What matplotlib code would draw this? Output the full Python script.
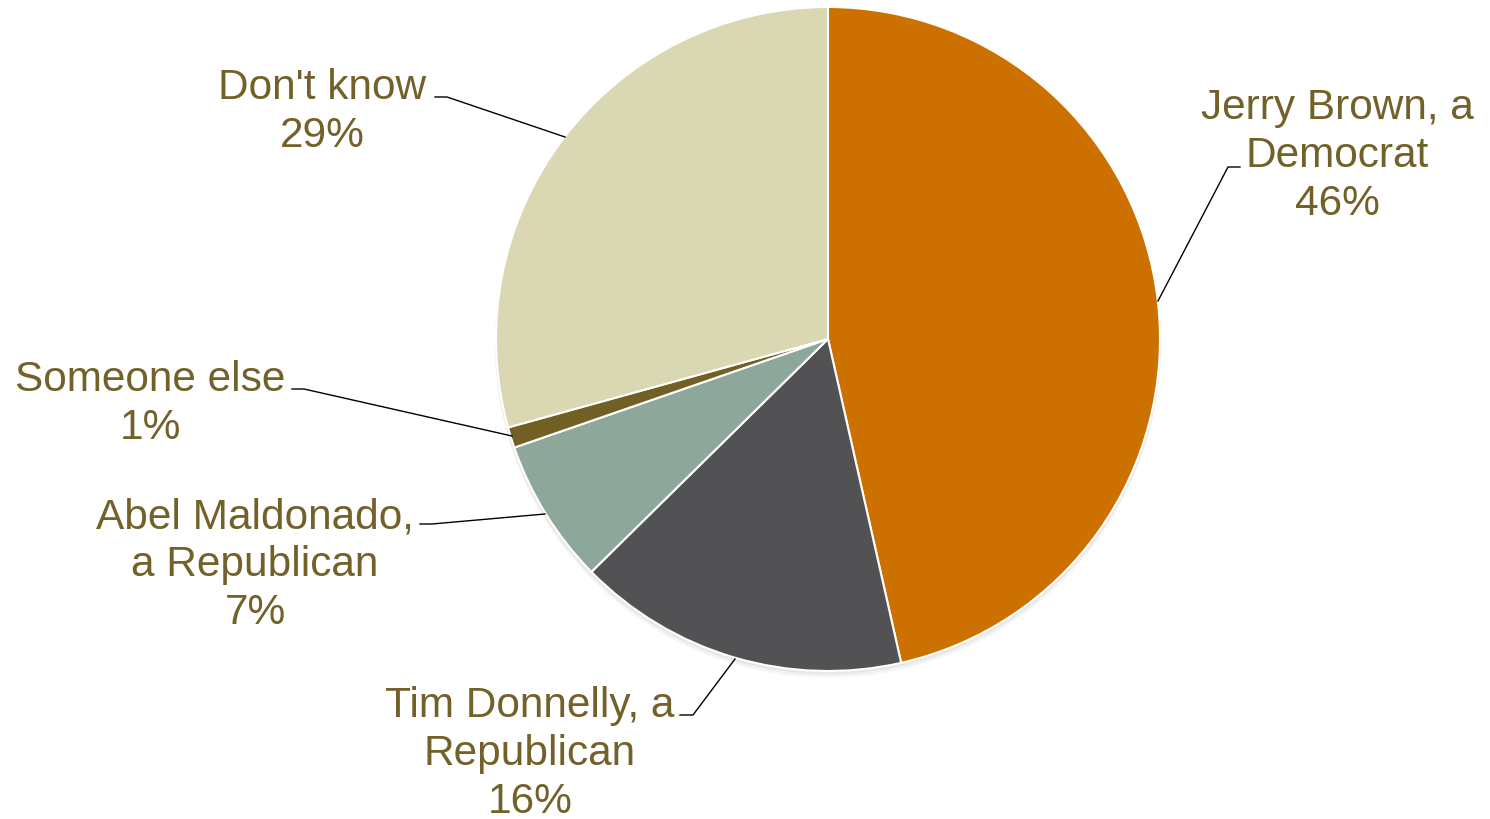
import matplotlib
matplotlib.use('Agg')
import matplotlib.pyplot as plt
from matplotlib.patches import Circle

# Data
labels = ['Jerry Brown, a\nDemocrat', 'Tim Donnelly, a\nRepublican',
          'Abel Maldonado,\na Republican', 'Someone else', "Don't know"]
values = [46, 16, 7, 1, 29]
colors = ['#CC7000', '#525254', '#8DA89B', '#725F24', '#D9D8B2']

text_color = '#73612A'
plt.rcParams['font.family'] = ['Liberation Sans', 'DejaVu Sans']

W, H = 1490, 820
fig = plt.figure(figsize=(W / 100, H / 100), dpi=100)
ax = fig.add_axes([0, 0, 1, 1])


def py(y):
    # pixel y (from top) to data y
    return H - y


cx, cy, r = 828, py(340), 332

# soft shadow under the pie
for off, a in [(6, 0.05), (4, 0.07), (2, 0.09)]:
    ax.add_patch(Circle((cx, cy - off), r + 1, color='#888888', alpha=a, lw=0, zorder=1))

wedges, _ = ax.pie(values, colors=colors, startangle=90, counterclock=False,
                   center=(cx, cy), radius=r, frame=True,
                   wedgeprops=dict(edgecolor='white', linewidth=1.5, zorder=2))
ax.set_xlim(0, W)
ax.set_ylim(0, H)
ax.set_aspect('equal')
ax.axis('off')

# label position (centre of text block) and leader line points, in pixels
label_pos = [(1337, 156), (530, 754), (255, 565), (150, 404), (322, 112)]
leaders = [
    [(1158, 302), (1228, 168), (1240, 168)],
    [(735, 660), (693, 716), (680, 716)],
    [(545, 515), (432, 525), (420, 525)],
    [(512, 437), (304, 390), (292, 390)],
    [(565, 138), (447, 98), (435, 98)],
]

total = sum(values)
for lab, v, (x, y), pts in zip(labels, values, label_pos, leaders):
    pct = round(v / total * 100)
    ax.text(x, py(y), f'{lab}\n{pct}%', ha='center', va='center',
            fontsize=30.5, color=text_color, linespacing=1.25, zorder=5)
    xs = [p[0] for p in pts]
    ys = [py(p[1]) for p in pts]
    ax.plot(xs, ys, color='black', lw=1, zorder=4)

fig.savefig('out.png', dpi=100)
